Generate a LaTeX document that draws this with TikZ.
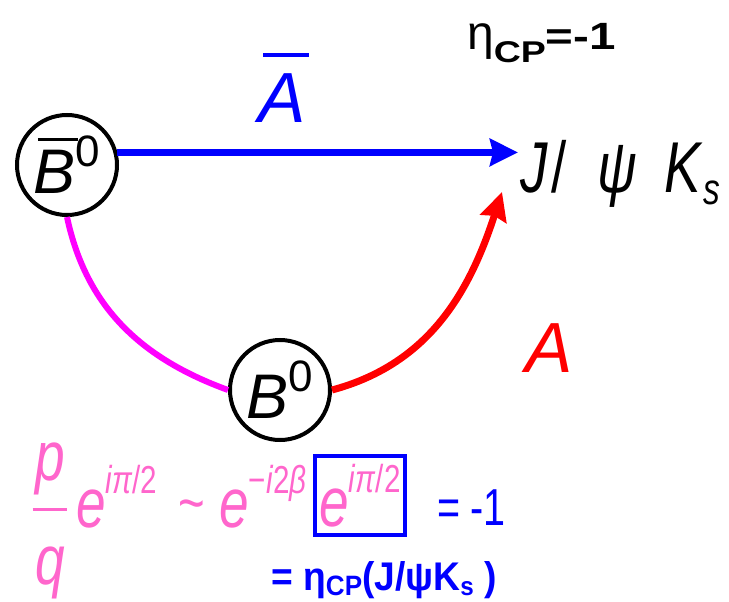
\documentclass[tikz,border=0pt]{standalone}
\usepackage{fontspec}
\setmainfont{Liberation Sans}
\newfontfamily\narrowsf[FakeStretch=0.76]{Liberation Sans}
\newfontfamily\widesf[FakeStretch=1.25]{Liberation Sans}
\newfontfamily\tightsf[FakeStretch=0.93]{Liberation Sans}
\usetikzlibrary{arrows.meta}
\definecolor{oscpink}{RGB}{255,102,204}
\definecolor{oscmagenta}{RGB}{255,0,255}

\newcommand{\fs}[1]{\fontsize{#1}{#1}\selectfont}
% bar over a letter: shift, height, letter
\newcommand{\bbar}[3]{\rlap{\hspace*{#1}\rule[#2]{.64em}{.05em}}#3}
\newcommand{\expo}[2]{\raisebox{#1}{\fs{39pt}#2}}

\begin{document}
\begin{tikzpicture}[x=1pt, y=1pt,
  meson/.style={circle, draw, line width=4pt, fill=white, minimum size=100pt,
    inner sep=0pt, font=\fs{63pt}},
  flow/.style={line width=7pt, -{Stealth[length=28pt, width=27pt, inset=3pt]}},
  txt/.style={inner sep=0pt, anchor=base west}]
  \useasboundingbox (0,0) rectangle (729,-602);
  % the two neutral mesons
  \node[meson] (Bbar) at (67,-165) {\bbar{4pt}{53pt}{\itshape B}\raisebox{27pt}{\fs{44pt}\upshape 0}};
  \node[meson] (B) at (280,-390) {\itshape B\raisebox{27pt}{\fs{44pt}\upshape 0}};
  % final state and CP eigenvalue
  \node[txt, font=\narrowsf\fs{72pt}] (jpsi) at (520,-192)
    {\textit{J}\hspace{4pt}/\hspace{30pt}\textit{ψ}\hspace{28pt}\textit{K}\raisebox{-13pt}{\fs{44pt}\textit{s}}};
  \node[txt] (etacp) at (467,-50)
    {\fs{48pt}η\raisebox{-13pt}{\widesf\bfseries\fs{30pt}CP}{\widesf\bfseries\fs{38pt}=-1}};
  % amplitudes
  \node[txt, blue, font=\fs{71pt}] (Abar) at (258,-123) {\bbar{5pt}{66pt}{\itshape A}};
  \node[txt, red, font=\fs{71pt}\itshape] (A) at (525,-372) {A};
  \draw[flow, blue] (Bbar.14) -- ([xshift=-2pt]Bbar.14 -| jpsi.west);
  \draw[flow, red] (B.east) to[out=15, in=-108] ([xshift=-18pt]jpsi.base west);
  \draw[line width=6pt, oscmagenta] (Bbar.south) to[out=-78, in=160] (B.west);
  % mixing phase times decay phase
  \node[oscpink, font=\narrowsf\fs{70pt}\itshape, align=center, inner sep=0pt] (pq) at (50,-521)
    {p\\[-40pt]\rule{35pt}{3pt}\\[4pt]q};
  \node[txt, oscpink, font=\narrowsf\fs{70pt}] (e1) at (76,-527) {\textit{e}\expo{34pt}{\textit{iπ}/2}};
  \node[oscpink, font=\narrowsf\fs{60pt}] (sim) at (192,-512) {\textasciitilde};
  \node[txt, oscpink, font=\narrowsf\fs{70pt}] (e2) at (219,-527) {\textit{e}\expo{34pt}{−\textit{i}2\textit{β}}};
  \node[draw=blue, line width=4pt, minimum width=90pt, minimum height=79pt, inner sep=0pt,
    text=oscpink, font=\narrowsf\fs{70pt}] (e3) at (360,-495.5) {\textit{e}\expo{34pt}{\textit{iπ}/2}};
  \node[txt, blue, font=\narrowsf\fs{52pt}] (m1) at (437,-525) {=\hspace{10pt}-1};
  \node[txt, blue, font=\tightsf\bfseries\fs{40pt}] (etaj) at (271,-590)
    {= η\raisebox{-5pt}{\fs{28pt}CP}(J/ψK\raisebox{-5pt}{\fs{26pt}s}\ )};
\end{tikzpicture}
\end{document}
